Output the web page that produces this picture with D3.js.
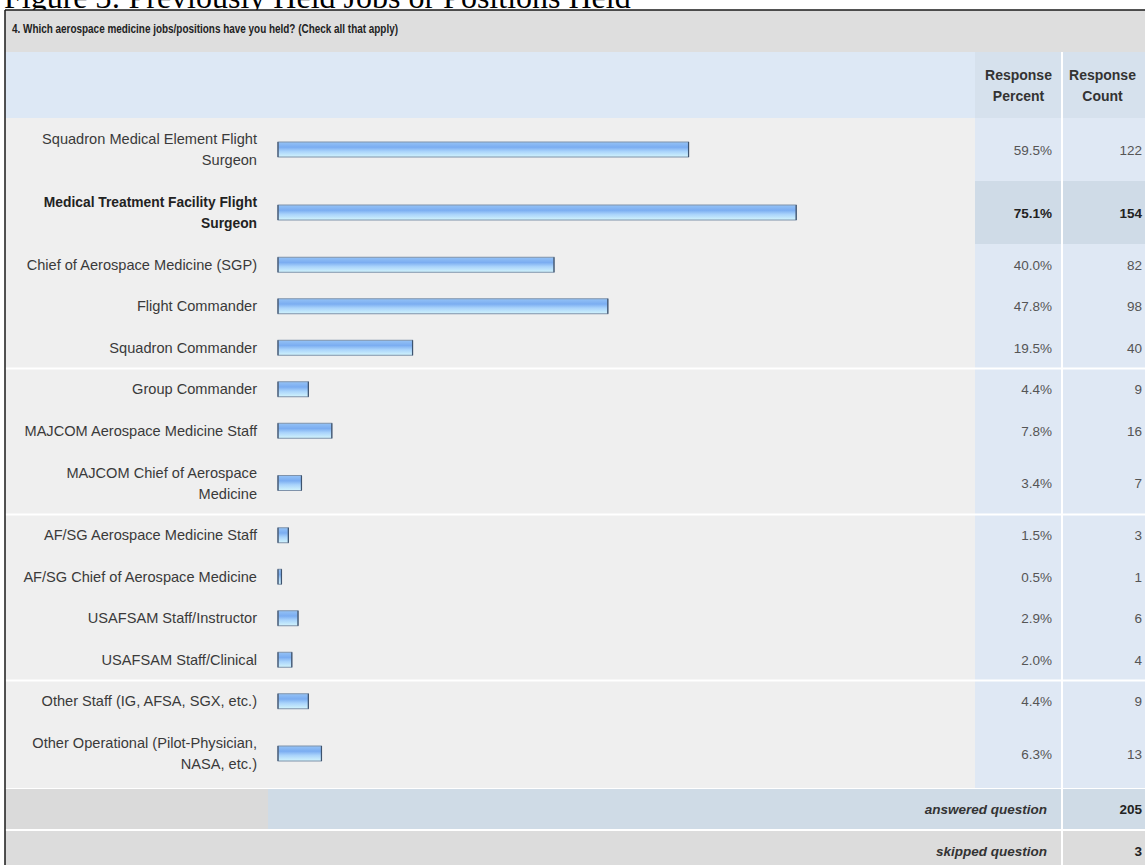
<!DOCTYPE html>
<html>
<head>
<meta charset="utf-8">
<script src="https://cdn.jsdelivr.net/npm/d3@7"></script>
<style>
  html, body { margin: 0; padding: 0; background: #ffffff; }
  svg { display: block; }
</style>
</head>
<body>
<svg id="chart" width="1145" height="865"></svg>
<script>
// ---------- data ----------
const caption = "Figure 3: Previously Held Jobs or Positions Held";
const question = "4. Which aerospace medicine jobs/positions have you held? (Check all that apply)";
const categories = [
  ["Squadron Medical Element Flight", "Surgeon"],
  ["Medical Treatment Facility Flight", "Surgeon"],
  ["Chief of Aerospace Medicine (SGP)"],
  ["Flight Commander"],
  ["Squadron Commander"],
  ["Group Commander"],
  ["MAJCOM Aerospace Medicine Staff"],
  ["MAJCOM Chief of Aerospace", "Medicine"],
  ["AF/SG Aerospace Medicine Staff"],
  ["AF/SG Chief of Aerospace Medicine"],
  ["USAFSAM Staff/Instructor"],
  ["USAFSAM Staff/Clinical"],
  ["Other Staff (IG, AFSA, SGX, etc.)"],
  ["Other Operational (Pilot-Physician,", "NASA, etc.)"]
];
const percents = [59.5, 75.1, 40.0, 47.8, 19.5, 4.4, 7.8, 3.4, 1.5, 0.5, 2.9, 2.0, 4.4, 6.3];
const counts = [122, 154, 82, 98, 40, 9, 16, 7, 3, 1, 6, 4, 9, 13];
const highlighted = [1];
const groupEnds = [4, 7, 11];
const headerCols = [["Response", "Percent"], ["Response", "Count"]];
const footerLabels = ["answered question", "skipped question"];
const footerValues = [205, 3];

// ---------- layout ----------
const W = 1145, H = 865;
const frameX = 5, frameY = 10;
const titleBandBottom = 52;
const headerBottom = 118;
const pctX0 = 975, cntX0 = 1062;
const singleH = 41.5, doubleH = 63;
const font = "'Liberation Sans', Arial, Helvetica, sans-serif";

const svg = d3.select("#chart");

const defs = svg.append("defs");
const grad = defs.append("linearGradient").attr("id", "barGrad")
  .attr("x1", 0).attr("y1", 0).attr("x2", 0).attr("y2", 1);
[["0%", "#94c2f6"], ["35%", "#7badf1"], ["62%", "#a9d3fb"], ["100%", "#d2f4fc"]]
  .forEach(([o, c]) => grad.append("stop").attr("offset", o).attr("stop-color", c));

// caption (partly cut off at the top)
svg.append("text")
  .attr("x", 4).attr("y", 7.5)
  .attr("font-family", "'Liberation Serif', 'Times New Roman', serif")
  .attr("font-size", 32).attr("fill", "#000")
  .text(caption);

// title band
svg.append("rect").attr("x", frameX).attr("y", frameY)
  .attr("width", W - frameX).attr("height", titleBandBottom - frameY)
  .attr("fill", "#dedede");
svg.append("text")
  .attr("x", 12).attr("y", 33)
  .attr("font-family", font).attr("font-size", 12).attr("font-weight", "bold")
  .attr("fill", "#222")
  .attr("textLength", 386).attr("lengthAdjust", "spacingAndGlyphs")
  .text(question);

// header row
svg.append("rect").attr("x", frameX).attr("y", titleBandBottom)
  .attr("width", W - frameX).attr("height", headerBottom - titleBandBottom)
  .attr("fill", "#dde8f5");
const colBounds = [[pctX0, cntX0], [cntX0, W]];
headerCols.forEach((lines, i) => {
  const [a, b] = colBounds[i];
  svg.append("rect").attr("x", a).attr("y", titleBandBottom)
    .attr("width", b - a).attr("height", headerBottom - titleBandBottom)
    .attr("fill", "#d6e1ed");
  lines.forEach((t, j) => {
    svg.append("text")
      .attr("x", (a + b) / 2 + (i === 1 ? -1 : 0)).attr("y", 80 + j * 21)
      .attr("text-anchor", "middle")
      .attr("font-family", font).attr("font-size", 14).attr("font-weight", "bold")
      .attr("fill", "#333")
      .text(t);
  });
});

// row positions
const rows = [];
let yCur = headerBottom;
categories.forEach((lines, i) => {
  const h = lines.length > 1 ? doubleH : singleH;
  rows.push({ i, lines, y: yCur, h, pct: percents[i], cnt: counts[i] });
  yCur += h;
});
const rowsBottom = 788;

const x = d3.scaleLinear().domain([0, 100]).range([278, 968]);

// row backgrounds
svg.append("rect").attr("x", frameX).attr("y", headerBottom)
  .attr("width", pctX0 - frameX).attr("height", rowsBottom - headerBottom)
  .attr("fill", "#efefef");
svg.append("rect").attr("x", pctX0).attr("y", headerBottom)
  .attr("width", W - pctX0).attr("height", rowsBottom - headerBottom)
  .attr("fill", "#dfe8f4");

const rowG = svg.append("g").selectAll("g").data(rows).join("g");

rowG.filter(d => highlighted.includes(d.i))
  .append("rect")
  .attr("x", pctX0).attr("y", d => d.y)
  .attr("width", W - pctX0).attr("height", d => d.h)
  .attr("fill", "#cfdbe7");

// labels
rowG.each(function (d) {
  const g = d3.select(this);
  const bold = highlighted.includes(d.i);
  const cy = d.y + d.h / 2;
  const n = d.lines.length;
  d.lines.forEach((t, j) => {
    g.append("text")
      .attr("x", 257)
      .attr("y", cy + (j - (n - 1) / 2) * 21 + 5)
      .attr("text-anchor", "end")
      .attr("font-family", font).attr("font-size", bold ? 13.8 : 14.6)
      .attr("font-weight", bold ? "bold" : "normal")
      .attr("fill", bold ? "#222" : "#3a3a3a")
      .text(t);
  });
});

// bars
const barH = 15;
rowG.append("rect")
  .attr("x", x(0))
  .attr("y", d => d.y + d.h / 2 - barH / 2)
  .attr("width", d => x(d.pct) - x(0))
  .attr("height", barH)
  .attr("fill", "url(#barGrad)")
  .attr("stroke", "#7f92aa").attr("stroke-width", 1);
// darker end caps
rowG.append("line")
  .attr("x1", x(0)).attr("x2", x(0))
  .attr("y1", d => d.y + d.h / 2 - barH / 2).attr("y2", d => d.y + d.h / 2 + barH / 2)
  .attr("stroke", "#3e536e").attr("stroke-width", 1.2);
rowG.append("line")
  .attr("x1", d => x(d.pct)).attr("x2", d => x(d.pct))
  .attr("y1", d => d.y + d.h / 2 - barH / 2).attr("y2", d => d.y + d.h / 2 + barH / 2)
  .attr("stroke", "#3e536e").attr("stroke-width", 1.2);

// values
rowG.append("text")
  .attr("x", 1052).attr("y", d => d.y + d.h / 2 + 5)
  .attr("text-anchor", "end")
  .attr("font-family", font).attr("font-size", 13.5)
  .attr("font-weight", d => highlighted.includes(d.i) ? "bold" : "normal")
  .attr("fill", d => highlighted.includes(d.i) ? "#222" : "#555")
  .text(d => d.pct.toFixed(1) + "%");
rowG.append("text")
  .attr("x", 1142).attr("y", d => d.y + d.h / 2 + 5)
  .attr("text-anchor", "end")
  .attr("font-family", font).attr("font-size", 13.5)
  .attr("font-weight", d => highlighted.includes(d.i) ? "bold" : "normal")
  .attr("fill", d => highlighted.includes(d.i) ? "#222" : "#555")
  .text(d => d.cnt);

// group separators
groupEnds.forEach(k => {
  const r = rows[k];
  svg.append("rect").attr("x", frameX).attr("y", r.y + r.h - 1)
    .attr("width", W - frameX).attr("height", 2).attr("fill", "#ffffff");
});

// footer
const footerRows = [
  { y: rowsBottom + 1, h: 40, label: footerLabels[0], val: footerValues[0] },
  { y: rowsBottom + 43, h: 40, label: footerLabels[1], val: footerValues[1] }
];
svg.append("rect").attr("x", frameX).attr("y", rowsBottom)
  .attr("width", W - frameX).attr("height", H - rowsBottom).attr("fill", "#ffffff");
// answered row
svg.append("rect").attr("x", frameX).attr("y", footerRows[0].y)
  .attr("width", 268 - frameX).attr("height", footerRows[0].h).attr("fill", "#dadada");
svg.append("rect").attr("x", 268).attr("y", footerRows[0].y)
  .attr("width", W - 268).attr("height", footerRows[0].h).attr("fill", "#cfdbe6");
// skipped row
svg.append("rect").attr("x", frameX).attr("y", footerRows[1].y)
  .attr("width", W - frameX).attr("height", H - footerRows[1].y).attr("fill", "#dcdcdc");

footerRows.forEach(f => {
  svg.append("text")
    .attr("x", 1047).attr("y", f.y + f.h / 2 + 5)
    .attr("text-anchor", "end")
    .attr("font-family", font).attr("font-size", 13.5)
    .attr("font-weight", "bold").attr("font-style", "italic")
    .attr("fill", "#333")
    .text(f.label);
  svg.append("text")
    .attr("x", 1142).attr("y", f.y + f.h / 2 + 5)
    .attr("text-anchor", "end")
    .attr("font-family", font).attr("font-size", 13.5)
    .attr("font-weight", "bold")
    .attr("fill", "#222")
    .text(f.val);
});

// vertical white line between percent and count columns
svg.append("rect").attr("x", cntX0 - 1).attr("y", titleBandBottom)
  .attr("width", 2).attr("height", H - titleBandBottom).attr("fill", "#ffffff");

// frame border (top & left visible)
svg.append("line").attr("x1", frameX).attr("y1", frameY).attr("x2", W).attr("y2", frameY)
  .attr("stroke", "#1a1a1a").attr("stroke-width", 1.5);
svg.append("line").attr("x1", frameX).attr("y1", frameY).attr("x2", frameX).attr("y2", H)
  .attr("stroke", "#1a1a1a").attr("stroke-width", 1.5);
</script>
</body>
</html>
